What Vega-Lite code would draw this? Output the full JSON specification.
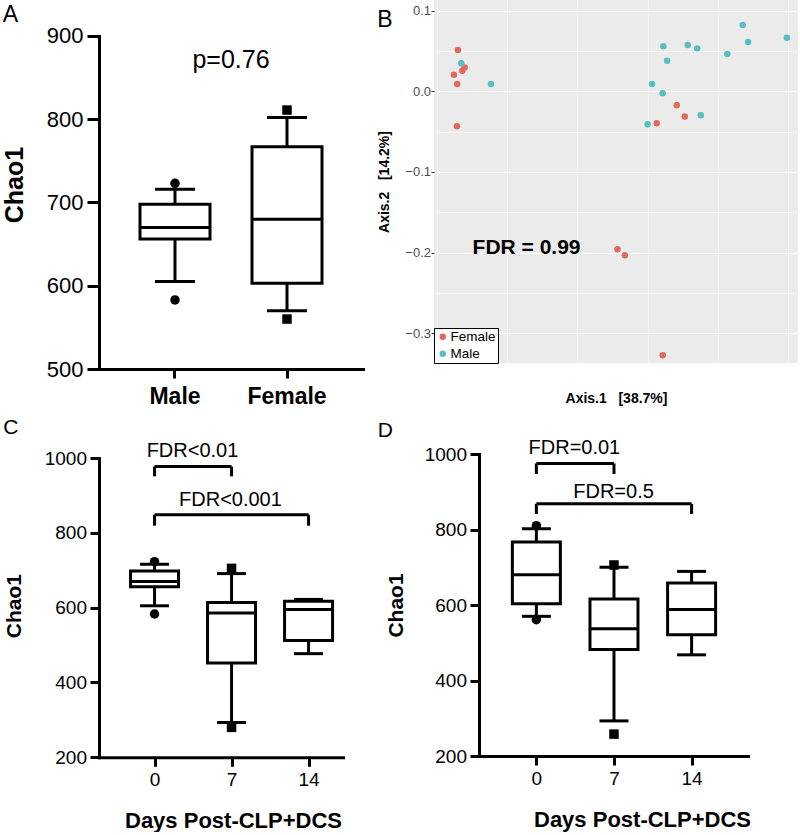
{
  "$schema": "https://vega.github.io/schema/vega-lite/v6.json",
  "background": "white",
  "padding": {"left": 2, "top": 0, "right": 0, "bottom": 0},
  "config": {
    "font": "Liberation Sans",
    "view": {"stroke": null},
    "axis": {"grid": false, "domainColor": "black", "tickColor": "black", "labelColor": "black", "titleColor": "black", "labelFont": "Liberation Sans", "titleFont": "Liberation Sans", "domainCap": "square"},
    "title": {"anchor": "start", "frame": "bounds", "fontSize": 23, "fontWeight": "normal", "color": "black", "font": "Liberation Sans"}
  },
  "datasets": {
    "boxA": [
      {"sex": "Male", "lower": 605, "q1": 656, "median": 670, "q3": 698, "upper": 716},
      {"sex": "Female", "lower": 570, "q1": 603, "median": 680, "q3": 767, "upper": 802}
    ],
    "outA": [
      {"sex": "Male", "value": 723, "shape": "circle"},
      {"sex": "Male", "value": 583, "shape": "circle"},
      {"sex": "Female", "value": 811, "shape": "square"},
      {"sex": "Female", "value": 560, "shape": "square"}
    ],
    "pcoa": [
      {"sex": "Female", "ax1": -0.22, "ax2": 0.0513},
      {"sex": "Female", "ax1": -0.2257, "ax2": 0.0207},
      {"sex": "Female", "ax1": -0.221, "ax2": 0.0092},
      {"sex": "Female", "ax1": -0.2137, "ax2": 0.0256},
      {"sex": "Female", "ax1": -0.2104, "ax2": 0.0297},
      {"sex": "Female", "ax1": -0.2214, "ax2": -0.0434},
      {"sex": "Female", "ax1": 0.0629, "ax2": -0.0396},
      {"sex": "Female", "ax1": 0.0914, "ax2": -0.0173},
      {"sex": "Female", "ax1": 0.1029, "ax2": -0.0313},
      {"sex": "Female", "ax1": 0.0071, "ax2": -0.1958},
      {"sex": "Female", "ax1": 0.0176, "ax2": -0.2032},
      {"sex": "Female", "ax1": 0.0714, "ax2": -0.3275},
      {"sex": "Male", "ax1": -0.2151, "ax2": 0.0347},
      {"sex": "Male", "ax1": -0.1729, "ax2": 0.0092},
      {"sex": "Male", "ax1": 0.0724, "ax2": 0.0558},
      {"sex": "Male", "ax1": 0.0777, "ax2": 0.038},
      {"sex": "Male", "ax1": 0.1071, "ax2": 0.0575},
      {"sex": "Male", "ax1": 0.1206, "ax2": 0.0533},
      {"sex": "Male", "ax1": 0.0563, "ax2": 0.0092},
      {"sex": "Male", "ax1": 0.0714, "ax2": -0.0025},
      {"sex": "Male", "ax1": 0.05, "ax2": -0.0409},
      {"sex": "Male", "ax1": 0.1257, "ax2": -0.0297},
      {"sex": "Male", "ax1": 0.1634, "ax2": 0.0463},
      {"sex": "Male", "ax1": 0.1853, "ax2": 0.0823},
      {"sex": "Male", "ax1": 0.1929, "ax2": 0.0612},
      {"sex": "Male", "ax1": 0.2481, "ax2": 0.0665}
    ],
    "boxC": [
      {"day": 0, "lower": 605, "q1": 656, "median": 670, "q3": 698, "upper": 716},
      {"day": 7, "lower": 293, "q1": 452, "median": 586, "q3": 614, "upper": 691},
      {"day": 14, "lower": 477, "q1": 512, "median": 595, "q3": 617, "upper": 622}
    ],
    "outC": [
      {"day": 0, "value": 723, "shape": "circle"},
      {"day": 0, "value": 583, "shape": "circle"},
      {"day": 7, "value": 705, "shape": "square"},
      {"day": 7, "value": 280, "shape": "square"}
    ],
    "brC": [
      {"from": 0, "to": 7, "top": 977, "bottom": 951, "label": "FDR<0.01", "mid": 3.45, "ly": 1004},
      {"from": 0, "to": 14, "top": 848, "bottom": 819, "label": "FDR<0.001", "mid": 6.9, "ly": 872}
    ],
    "boxD": [
      {"day": 0, "lower": 570, "q1": 603, "median": 680, "q3": 767, "upper": 802},
      {"day": 7, "lower": 293, "q1": 482, "median": 537, "q3": 616, "upper": 700},
      {"day": 14, "lower": 468, "q1": 521, "median": 588, "q3": 658, "upper": 689}
    ],
    "outD": [
      {"day": 0, "value": 810, "shape": "circle"},
      {"day": 0, "value": 561, "shape": "circle"},
      {"day": 7, "value": 706, "shape": "square"},
      {"day": 7, "value": 258, "shape": "square"}
    ],
    "brD": [
      {"from": 0, "to": 7, "top": 975, "bottom": 947, "label": "FDR=0.01", "mid": 3.43, "ly": 1000},
      {"from": 0, "to": 14, "top": 868, "bottom": 841, "label": "FDR=0.5", "mid": 6.96, "ly": 884}
    ]
  },
  "resolve": {"scale": {"color": "independent", "shape": "independent"}, "legend": {"color": "independent"}},
  "vconcat": [
    {
      "resolve": {"scale": {"color": "independent", "shape": "independent"}, "legend": {"color": "independent"}},
      "concat": [
        {
          "title": {"text": "A", "dx": 0, "offset": -27},
          "width": 264,
          "height": 369,
          "layer": [
            {
              "data": {"name": "boxA"},
              "mark": {"type": "rule", "strokeWidth": 3, "color": "black"},
              "encoding": {
                "x": {"field": "sex", "type": "nominal", "sort": ["Male", "Female"], "scale": {"type": "band", "paddingInner": 0.375, "paddingOuter": 0.366},
                  "axis": {"title": null, "labelFontSize": 23, "labelFontWeight": "bold", "labelAngle": 0, "tickSize": 9, "tickWidth": 3, "domainWidth": 3, "labelPadding": 7}},
                "y": {"field": "lower", "type": "quantitative", "scale": {"domain": [500, 943.2], "nice": false, "zero": false},
                  "axis": {"title": "Chao1", "titleFontSize": 25, "titleFontWeight": "bold", "titlePadding": 18.5, "values": [500, 600, 700, 800, 900], "labelFontSize": 22, "tickSize": 12, "tickWidth": 3, "domainWidth": 3, "domainDash": [333, 60], "labelPadding": 4}},
                "y2": {"field": "upper"}
              }
            },
            {
              "data": {"name": "boxA"},
              "mark": {"type": "bar", "fill": "white", "stroke": "black", "strokeWidth": 3},
              "encoding": {
                "x": {"field": "sex", "type": "nominal", "sort": ["Male", "Female"]},
                "y": {"field": "q1", "type": "quantitative"},
                "y2": {"field": "q3"}
              }
            },
            {
              "data": {"name": "boxA"},
              "mark": {"type": "tick", "orient": "horizontal", "size": 72, "thickness": 3, "color": "black", "opacity": 1},
              "encoding": {"x": {"field": "sex", "type": "nominal", "sort": ["Male", "Female"]}, "y": {"field": "median", "type": "quantitative"}}
            },
            {
              "data": {"name": "boxA"},
              "mark": {"type": "tick", "orient": "horizontal", "size": 40, "thickness": 3, "color": "black", "opacity": 1},
              "encoding": {"x": {"field": "sex", "type": "nominal", "sort": ["Male", "Female"]}, "y": {"field": "lower", "type": "quantitative"}}
            },
            {
              "data": {"name": "boxA"},
              "mark": {"type": "tick", "orient": "horizontal", "size": 40, "thickness": 3, "color": "black", "opacity": 1},
              "encoding": {"x": {"field": "sex", "type": "nominal", "sort": ["Male", "Female"]}, "y": {"field": "upper", "type": "quantitative"}}
            },
            {
              "data": {"name": "outA"},
              "mark": {"type": "point", "filled": true, "size": 90, "color": "black", "opacity": 1},
              "encoding": {
                "x": {"field": "sex", "type": "nominal", "sort": ["Male", "Female"]},
                "y": {"field": "value", "type": "quantitative"},
                "shape": {"field": "shape", "type": "nominal", "scale": null}
              }
            },
            {
              "data": {"values": [{"label": "p=0.76", "y": 862}]},
              "mark": {"type": "text", "fontSize": 25, "align": "center", "baseline": "alphabetic", "color": "black"},
              "encoding": {"y": {"field": "y", "type": "quantitative"}, "text": {"field": "label"}}
            }
          ]
        },
        {
          "title": {"text": "B", "offset": -32, "dx": 0},
          "width": 364,
          "height": 363,
          "view": {"fill": "#EBEBEB", "stroke": null},
          "layer": [
            {
              "data": {"name": "pcoa"},
              "mark": {"type": "circle", "size": 42, "opacity": 1},
              "encoding": {
                "x": {"field": "ax1", "type": "quantitative", "scale": {"domain": [-0.254, 0.264], "nice": false, "zero": false},
                  "axis": {"title": "Axis.1\u00a0\u00a0\u00a0[38.7%]", "titleFontSize": 14, "titleFontWeight": "bold", "titlePadding": 12,
                    "values": [-0.25, -0.2, -0.15, -0.1, -0.05, 0, 0.05, 0.1, 0.15, 0.2, 0.25], "format": ".1f",
                    "labelExpr": "abs(round(datum.value*20))%2==0 ? datum.label : ''",
                    "labelFontSize": 13, "labelColor": "#4D4D4D", "labelPadding": 0.5, "labelFlush": false, "labelOverlap": false,
                    "tickSize": 3, "tickWidth": 1, "tickColor": "#333333",
                    "tickOpacity": {"condition": {"test": "abs(round(datum.value*20))%2==1", "value": 0}, "value": 1},
                    "domain": false, "grid": true, "gridColor": "#FFFFFF",
                    "gridWidth": {"condition": {"test": "abs(round(datum.value*20))%2==0", "value": 1.1}, "value": 0.5}}},
                "y": {"field": "ax2", "type": "quantitative", "scale": {"domain": [-0.337, 0.1133], "nice": false, "zero": false},
                  "axis": {"title": "Axis.2\u00a0\u00a0\u00a0[14.2%]", "titleFontSize": 14, "titleFontWeight": "bold", "titlePadding": 13.5,
                    "values": [-0.3, -0.25, -0.2, -0.15, -0.1, -0.05, 0, 0.05, 0.1], "format": ".1f",
                    "labelExpr": "abs(round(datum.value*20))%2==0 ? datum.label : ''",
                    "labelFontSize": 13, "labelColor": "#4D4D4D", "labelPadding": 0.5, "labelOverlap": false,
                    "tickSize": 3, "tickWidth": 1, "tickColor": "#333333",
                    "tickOpacity": {"condition": {"test": "abs(round(datum.value*20))%2==1", "value": 0}, "value": 1},
                    "domain": false, "grid": true, "gridColor": "#FFFFFF",
                    "gridWidth": {"condition": {"test": "abs(round(datum.value*20))%2==0", "value": 1.1}, "value": 0.5}}},
                "color": {"field": "sex", "type": "nominal", "scale": {"domain": ["Female", "Male"], "range": ["#E2685D", "#58BEC5"]},
                  "legend": {"title": null, "orient": "bottom-left", "offset": 0, "fillColor": "white", "strokeColor": "black", "padding": 2, "rowPadding": 2,
                    "labelFontSize": 13.5, "labelColor": "black", "symbolType": "circle", "symbolSize": 42, "symbolStrokeWidth": 0, "labelOffset": 1}}
              }
            },
            {
              "data": {"values": [{"label": "FDR = 0.99", "x": -0.1223, "y": -0.2015}]},
              "mark": {"type": "text", "fontSize": 21, "fontWeight": "bold", "align": "center", "baseline": "alphabetic", "color": "black"},
              "encoding": {"x": {"field": "x", "type": "quantitative"}, "y": {"field": "y", "type": "quantitative"}, "text": {"field": "label"}}
            }
          ]
        }
      ],
      "align": "none",
      "spacing": 14
    },
    {
      "concat": [
        {
          "title": {"text": "C", "fontSize": 21, "dx": 0, "offset": 3},
          "width": 244,
          "height": 303.3,
          "layer": [
            {
              "data": {"name": "boxC"},
              "mark": {"type": "rule", "strokeWidth": 3, "color": "black"},
              "encoding": {
                "x": {"field": "day", "type": "quantitative", "scale": {"domain": [-4.594, 16.676], "nice": false, "zero": false},
                  "axis": {"title": "Days Post-CLP+DCS", "titleFontSize": 22, "titleFontWeight": "bold", "titlePadding": 21, "titleX": 134,
                    "values": [0, 7, 14], "format": "d", "labelFontSize": 19, "tickSize": 9, "tickWidth": 3, "domainWidth": 3, "labelPadding": 4.3, "labelFlush": false}},
                "y": {"field": "lower", "type": "quantitative", "scale": {"domain": [200, 1010.7], "nice": false, "zero": false},
                  "axis": {"title": "Chao1", "titleFontSize": 21, "titleFontWeight": "bold", "titlePadding": 20, "values": [200, 400, 600, 800, 1000], "format": "d",
                    "labelFontSize": 19, "tickSize": 9, "tickWidth": 3, "domainWidth": 3, "domainDash": [299.3, 30], "labelPadding": 3.5}},
                "y2": {"field": "upper"}
              }
            },
            {
              "data": {"name": "boxC"},
              "mark": {"type": "bar", "width": 48, "fill": "white", "stroke": "black", "strokeWidth": 3, "orient": "vertical"},
              "encoding": {"x": {"field": "day", "type": "quantitative"}, "y": {"field": "q1", "type": "quantitative"}, "y2": {"field": "q3"}}
            },
            {
              "data": {"name": "boxC"},
              "mark": {"type": "tick", "orient": "horizontal", "size": 50, "thickness": 3, "color": "black", "opacity": 1},
              "encoding": {"x": {"field": "day", "type": "quantitative"}, "y": {"field": "median", "type": "quantitative"}}
            },
            {
              "data": {"name": "boxC"},
              "mark": {"type": "tick", "orient": "horizontal", "size": 29, "thickness": 3, "color": "black", "opacity": 1},
              "encoding": {"x": {"field": "day", "type": "quantitative"}, "y": {"field": "lower", "type": "quantitative"}}
            },
            {
              "data": {"name": "boxC"},
              "mark": {"type": "tick", "orient": "horizontal", "size": 29, "thickness": 3, "color": "black", "opacity": 1},
              "encoding": {"x": {"field": "day", "type": "quantitative"}, "y": {"field": "upper", "type": "quantitative"}}
            },
            {
              "data": {"name": "outC"},
              "mark": {"type": "point", "filled": true, "size": 90, "color": "black", "opacity": 1},
              "encoding": {"x": {"field": "day", "type": "quantitative"}, "y": {"field": "value", "type": "quantitative"}, "shape": {"field": "shape", "type": "nominal", "scale": null}}
            },
            {
              "data": {"name": "brC"},
              "mark": {"type": "rule", "strokeWidth": 3, "color": "black"},
              "encoding": {"x": {"field": "from", "type": "quantitative"}, "x2": {"field": "to"}, "y": {"field": "top", "type": "quantitative"}}
            },
            {
              "data": {"name": "brC"},
              "mark": {"type": "rule", "strokeWidth": 3, "color": "black"},
              "encoding": {"x": {"field": "from", "type": "quantitative"}, "y": {"field": "bottom", "type": "quantitative"}, "y2": {"field": "top"}}
            },
            {
              "data": {"name": "brC"},
              "mark": {"type": "rule", "strokeWidth": 3, "color": "black"},
              "encoding": {"x": {"field": "to", "type": "quantitative"}, "y": {"field": "bottom", "type": "quantitative"}, "y2": {"field": "top"}}
            },
            {
              "data": {"name": "brC"},
              "mark": {"type": "text", "fontSize": 20, "align": "center", "baseline": "alphabetic", "color": "black"},
              "encoding": {"x": {"field": "mid", "type": "quantitative"}, "y": {"field": "ly", "type": "quantitative"}, "text": {"field": "label"}}
            }
          ]
        },
        {
          "title": {"text": "D", "fontSize": 21, "dx": -8, "offset": -3},
          "width": 269,
          "height": 302,
          "layer": [
            {
              "data": {"name": "boxD"},
              "mark": {"type": "rule", "strokeWidth": 3, "color": "black"},
              "encoding": {
                "x": {"field": "day", "type": "quantitative", "scale": {"domain": [-4.722, 18.635], "nice": false, "zero": false},
                  "axis": {"title": "Days Post-CLP+DCS", "titleFontSize": 22, "titleFontWeight": "bold", "titlePadding": 21, "titleX": 163,
                    "values": [0, 7, 14], "format": "d", "labelFontSize": 19, "tickSize": 9, "tickWidth": 3, "domainWidth": 3, "labelPadding": 4.3, "labelFlush": false}},
                "y": {"field": "lower", "type": "quantitative", "scale": {"domain": [200, 1000], "nice": false, "zero": false},
                  "axis": {"title": "Chao1", "titleFontSize": 21, "titleFontWeight": "bold", "titlePadding": 17.5, "values": [200, 400, 600, 800, 1000], "format": "d",
                    "labelFontSize": 19, "tickSize": 9, "tickWidth": 3, "domainWidth": 3, "labelPadding": 3.5}},
                "y2": {"field": "upper"}
              }
            },
            {
              "data": {"name": "boxD"},
              "mark": {"type": "bar", "width": 48, "fill": "white", "stroke": "black", "strokeWidth": 3, "orient": "vertical"},
              "encoding": {"x": {"field": "day", "type": "quantitative"}, "y": {"field": "q1", "type": "quantitative"}, "y2": {"field": "q3"}}
            },
            {
              "data": {"name": "boxD"},
              "mark": {"type": "tick", "orient": "horizontal", "size": 50, "thickness": 3, "color": "black", "opacity": 1},
              "encoding": {"x": {"field": "day", "type": "quantitative"}, "y": {"field": "median", "type": "quantitative"}}
            },
            {
              "data": {"name": "boxD"},
              "mark": {"type": "tick", "orient": "horizontal", "size": 29, "thickness": 3, "color": "black", "opacity": 1},
              "encoding": {"x": {"field": "day", "type": "quantitative"}, "y": {"field": "lower", "type": "quantitative"}}
            },
            {
              "data": {"name": "boxD"},
              "mark": {"type": "tick", "orient": "horizontal", "size": 29, "thickness": 3, "color": "black", "opacity": 1},
              "encoding": {"x": {"field": "day", "type": "quantitative"}, "y": {"field": "upper", "type": "quantitative"}}
            },
            {
              "data": {"name": "outD"},
              "mark": {"type": "point", "filled": true, "size": 90, "color": "black", "opacity": 1},
              "encoding": {"x": {"field": "day", "type": "quantitative"}, "y": {"field": "value", "type": "quantitative"}, "shape": {"field": "shape", "type": "nominal", "scale": null}}
            },
            {
              "data": {"name": "brD"},
              "mark": {"type": "rule", "strokeWidth": 3, "color": "black"},
              "encoding": {"x": {"field": "from", "type": "quantitative"}, "x2": {"field": "to"}, "y": {"field": "top", "type": "quantitative"}}
            },
            {
              "data": {"name": "brD"},
              "mark": {"type": "rule", "strokeWidth": 3, "color": "black"},
              "encoding": {"x": {"field": "from", "type": "quantitative"}, "y": {"field": "bottom", "type": "quantitative"}, "y2": {"field": "top"}}
            },
            {
              "data": {"name": "brD"},
              "mark": {"type": "rule", "strokeWidth": 3, "color": "black"},
              "encoding": {"x": {"field": "to", "type": "quantitative"}, "y": {"field": "bottom", "type": "quantitative"}, "y2": {"field": "top"}}
            },
            {
              "data": {"name": "brD"},
              "mark": {"type": "text", "fontSize": 20, "align": "center", "baseline": "alphabetic", "color": "black"},
              "encoding": {"x": {"field": "mid", "type": "quantitative"}, "y": {"field": "ly", "type": "quantitative"}, "text": {"field": "label"}}
            }
          ]
        }
      ],
      "align": "none",
      "spacing": 34
    }
  ],
  "spacing": 8
}
